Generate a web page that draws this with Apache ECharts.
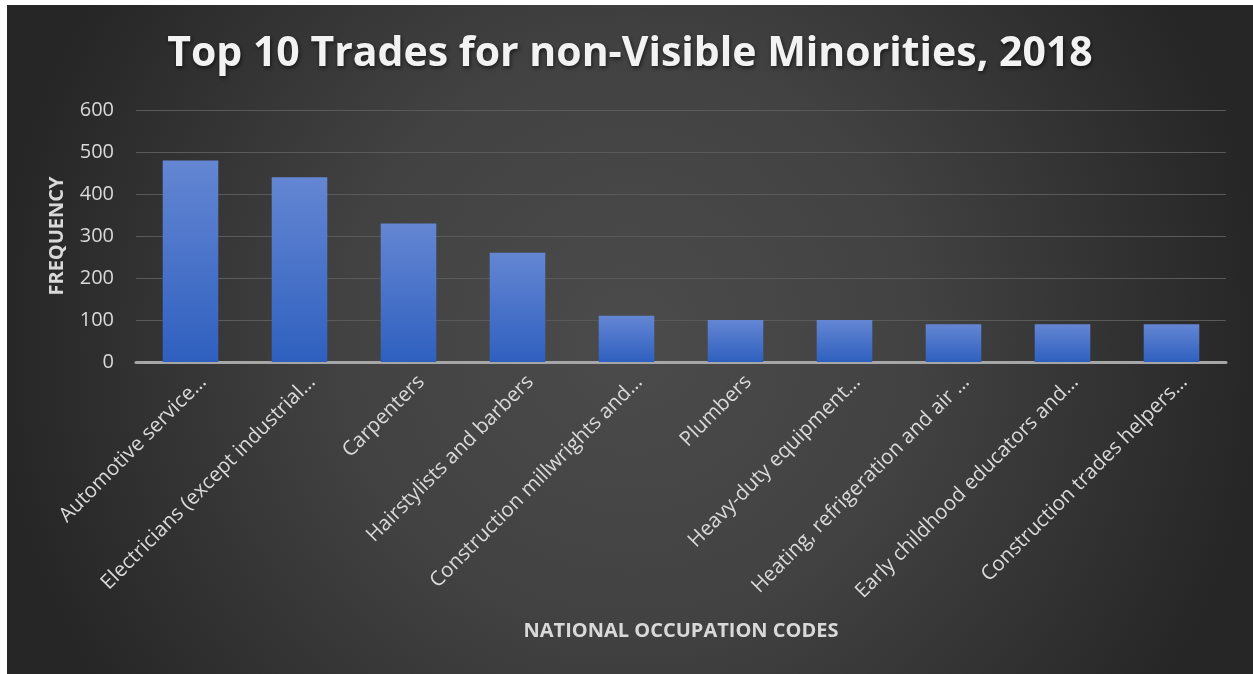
<!DOCTYPE html>
<html>
<head>
<meta charset="utf-8">
<script src="https://cdn.jsdelivr.net/npm/echarts@6/dist/echarts.min.js"></script>
<style>
  html, body { margin: 0; padding: 0; background: #ffffff; }
  #chart { position: absolute; left: 7px; top: 5px; width: 1246px; height: 669px; }
</style>
</head>
<body>
<div id="chart"></div>
<script>
// Occupations (labels as they appear on the axis) and their counts
const occupations = [
  'Automotive service…',
  'Electricians (except industrial…',
  'Carpenters',
  'Hairstylists and barbers',
  'Construction millwrights and…',
  'Plumbers',
  'Heavy-duty equipment…',
  'Heating, refrigeration and air …',
  'Early childhood educators and…',
  'Construction trades helpers…'
];
const frequency = [480, 440, 330, 260, 110, 100, 100, 90, 90, 90];
const yTicks = { min: 0, max: 600, interval: 100 };

const font = '"Open Sans", "Noto Sans", sans-serif';
const chart = echarts.init(document.getElementById('chart'));

chart.setOption({
  backgroundColor: {
    type: 'radial', x: 0.5, y: 0.5, r: 0.95,
    colorStops: [
      { offset: 0, color: '#4b4b4b' },
      { offset: 0.45, color: '#424242' },
      { offset: 1, color: '#262626' }
    ]
  },
  title: {
    text: 'Top 10 Trades for non-Visible Minorities, 2018',
    left: 'center',
    top: 24,
    textStyle: {
      fontFamily: font, fontSize: 41, fontWeight: 'bold', color: '#f2f2f2',
      textShadowColor: 'rgba(0,0,0,0.6)', textShadowBlur: 4, textShadowOffsetX: 1, textShadowOffsetY: 2
    }
  },
  grid: { left: 129, right: 27, top: 105, bottom: 312 },
  xAxis: {
    type: 'category',
    data: occupations,
    name: 'NATIONAL OCCUPATION CODES',
    nameLocation: 'middle',
    nameGap: 259,
    nameTextStyle: { fontFamily: font, fontSize: 20, fontWeight: 'bold', color: '#d9d9d9' },
    axisLine: { lineStyle: { color: '#a6a6a6', width: 3 } },
    axisTick: { show: false },
    axisLabel: {
      interval: 0, rotate: 45, margin: 4,
      align: 'right', verticalAlign: 'top', lineHeight: 36,
      fontFamily: font, fontSize: 20.5, color: '#d9d9d9'
    }
  },
  yAxis: {
    type: 'value',
    min: yTicks.min, max: yTicks.max, interval: yTicks.interval,
    name: 'FREQUENCY',
    nameLocation: 'middle',
    nameGap: 69,
    nameTextStyle: { fontFamily: font, fontSize: 20, fontWeight: 'bold', color: '#d9d9d9' },
    axisLine: { show: false },
    axisTick: { show: false },
    splitLine: { lineStyle: { color: '#5a5a5a', width: 1 } },
    axisLabel: { margin: 22, fontFamily: font, fontSize: 20, color: '#d9d9d9' }
  },
  series: [{
    type: 'bar',
    data: frequency,
    barWidth: '51%',
    itemStyle: {
      color: {
        type: 'linear', x: 0, y: 0, x2: 0, y2: 1,
        colorStops: [
          { offset: 0, color: '#6486d3' },
          { offset: 1, color: '#2f60bf' }
        ]
      },
      shadowColor: 'rgba(0,0,0,0.45)', shadowBlur: 4, shadowOffsetX: 2, shadowOffsetY: 1
    }
  }]
});
</script>
</body>
</html>
